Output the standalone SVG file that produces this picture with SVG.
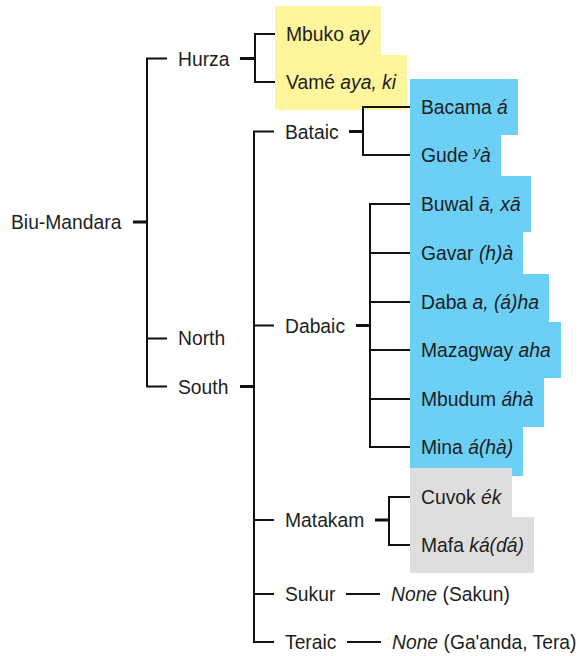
<svg xmlns="http://www.w3.org/2000/svg" width="580" height="656" viewBox="0 0 580 656">
  <style>
    text { font-family: "Liberation Sans", Arial, sans-serif; font-size: 19.3px; fill: #1e1e1e; }
    .i { font-style: italic; }
    .yel { fill: #fef59c; }
    .blu { fill: #6bcff6; }
    .gry { fill: #dedede; }
    .ln { fill: none; stroke: #111; stroke-width: 2; stroke-linecap: butt; stroke-linejoin: miter; }
    .tk { fill: none; stroke: #111; stroke-width: 3; }
  </style>
  <rect width="580" height="656" fill="#fff"/>

  <!-- family and branch labels -->
  <g id="biu-mandara"><text x="11" y="229">Biu-Mandara</text></g>
  <g id="hurza"><text x="178" y="66">Hurza</text></g>
  <g id="north"><text x="178" y="345">North</text></g>
  <g id="south"><text x="178" y="394">South</text></g>
  <g id="bataic"><text x="285" y="139">Bataic</text></g>
  <g id="dabaic"><text x="285" y="333">Dabaic</text></g>
  <g id="matakam"><text x="285" y="527">Matakam</text></g>
  <g id="sukur"><text x="285" y="601">Sukur</text></g>
  <g id="teraic"><text x="285" y="649">Teraic</text></g>

  <!-- Hurza languages -->
  <g id="mbuko"><rect class="yel" x="275" y="6" width="106" height="49"/><text x="286" y="41">Mbuko <tspan class="i">ay</tspan></text></g>
  <g id="vame"><rect class="yel" x="275" y="55" width="132" height="55"/><text x="286" y="89">Vamé <tspan class="i">aya, ki</tspan></text></g>

  <!-- Bataic languages -->
  <g id="bacama"><rect class="blu" x="410" y="79" width="108" height="56"/><text x="421" y="114">Bacama <tspan class="i">á</tspan></text></g>
  <g id="gude"><rect class="blu" x="410" y="135" width="91" height="41"/><text x="421" y="162">Gude <tspan class="i" font-size="13" dy="-6">y</tspan><tspan class="i" dy="6">à</tspan></text></g>

  <!-- Dabaic languages -->
  <g id="buwal"><rect class="blu" x="410" y="176" width="121" height="56"/><text x="421" y="211">Buwal <tspan class="i">ā, xā</tspan></text></g>
  <g id="gavar"><rect class="blu" x="410" y="232" width="113" height="42"/><text x="421" y="260">Gavar <tspan class="i">(h)à</tspan></text></g>
  <g id="daba"><rect class="blu" x="410" y="274" width="139" height="48"/><text x="421" y="309">Daba <tspan class="i">a, (á)ha</tspan></text></g>
  <g id="mazagway"><rect class="blu" x="410" y="322" width="151" height="56"/><text x="421" y="357">Mazagway <tspan class="i">aha</tspan></text></g>
  <g id="mbudum"><rect class="blu" x="410" y="378" width="134" height="49"/><text x="421" y="406">Mbudum <tspan class="i">áhà</tspan></text></g>
  <g id="mina"><rect class="blu" x="410" y="427" width="113" height="49"/><text x="421" y="454">Mina <tspan class="i">á(hà)</tspan></text></g>

  <!-- Matakam languages -->
  <g id="cuvok"><rect class="gry" x="410" y="468" width="102" height="49"/><text x="421" y="504">Cuvok <tspan class="i">ék</tspan></text></g>
  <g id="mafa"><rect class="gry" x="410" y="517" width="124" height="56"/><text x="421" y="552">Mafa <tspan class="i">ká(ɗá)</tspan></text></g>

  <!-- branches without a surviving form -->
  <g id="sakun"><text x="391" y="601"><tspan class="i">None</tspan> (Sakun)</text></g>
  <g id="ga-anda-tera"><text x="392" y="649"><tspan class="i">None</tspan> (Ga'anda, Tera)</text></g>

  <!-- tree connectors -->
  <g id="connectors">
    <path class="tk" d="M133 222H147"/>
    <path class="ln" d="M167 58.5H147V386.5H167M147 338.5H167"/>

    <path class="tk" d="M240 58.5H255"/>
    <path class="ln" d="M275 34H255V82H275"/>

    <path class="tk" d="M240 386.5H254"/>
    <path class="ln" d="M274 131.5H254V642H274M254 325.5H274M254 520H274M254 594H274"/>

    <path class="tk" d="M349 131.5H363"/>
    <path class="ln" d="M410 107H363V155H410"/>

    <path class="tk" d="M356 325.5H370"/>
    <path class="ln" d="M410 204H370V447H410M370 253H410M370 302H410M370 350H410M370 399H410"/>

    <path class="tk" d="M375 520H389"/>
    <path class="ln" d="M410 497H389V545H410"/>

    <path class="ln" d="M346 594H380"/>
    <path class="ln" d="M347 642H381"/>
  </g>
</svg>
